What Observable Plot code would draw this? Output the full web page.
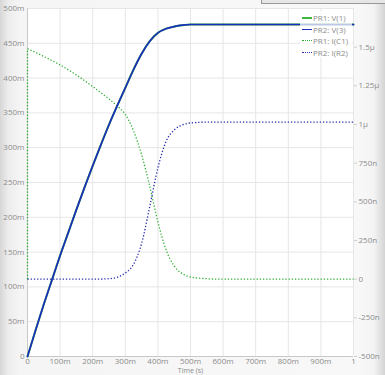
<!DOCTYPE html>
<html><head><meta charset="utf-8">
<script src="https://cdn.jsdelivr.net/npm/d3@7"></script>
<script src="https://cdn.jsdelivr.net/npm/@observablehq/plot@0.6"></script>
<style>
html,body{margin:0;padding:0;background:#f3f3f3;}
#wrap{position:relative;width:385px;height:375px;overflow:hidden;
 background:linear-gradient(to right,#d6d6d6 0px,#ececec 8px,#f5f5f5 20px,#f8f8f8 360px,#f3f3f3 374px,#d4d4d4 385px);}
#topbox{position:absolute;left:261px;top:-10px;width:140px;height:12px;background:#e6e6e6;border:1px solid #9a9a9a;}
#legend{position:absolute;left:300px;top:11px;width:52px;height:47px;background:rgba(255,255,255,0.72);
 font-family:"Open Sans",sans-serif;font-size:8px;color:#8c8c8c;}
.row{position:absolute;left:0;height:11px;line-height:11px;white-space:nowrap;}
.sw{position:absolute;left:2px;top:5px;width:10px;height:0;}
.lab{position:absolute;left:13px;top:0;}
</style></head>
<body><div id="wrap"><div id="topbox"></div><div id="chart"></div>
<div id="legend"></div></div>
<script>
// ---- tick values & labels ----
const xTicks = [0,0.1,0.2,0.3,0.4,0.5,0.6,0.7,0.8,0.9,1];
const xTickLabels = ["0","100m","200m","300m","400m","500m","600m","700m","800m","900m","1"];
const yTicks = [0,0.05,0.1,0.15,0.2,0.25,0.3,0.35,0.4,0.45,0.5];
const yTickLabels = ["0","50m","100m","150m","200m","250m","300m","350m","400m","450m","500m"];
const rTicks = [-500e-9,-250e-9,0,250e-9,500e-9,750e-9,1e-6,1.25e-6,1.5e-6];
const rTickLabels = ["-500n","-250n","0","250n","500n","750n","1µ","1.25µ","1.5µ"];
const rDomain = [-500e-9, 1.75e-6];

// ---- series ----
const seriesNames = ["PR1: V(1)","PR2: V(3)","PR1: I(C1)","PR2: I(R2)"];
const vTime = [0,0.025,0.05,0.075,0.1,0.125,0.15,0.175,0.2,0.225,0.25,0.275,0.3,0.325,0.35,0.375,0.4,0.425,0.45,0.475,0.5,0.6,0.8,1];
const v3Vals = [0,0.038,0.075,0.110,0.145,0.178,0.211,0.243,0.274,0.304,0.333,0.360,0.386,0.412,0.435,0.453,0.465,0.471,0.474,0.476,0.477,0.477,0.477,0.477];
const v1Vals = [0,0.038,0.075,0.110,0.145,0.178,0.211,0.243,0.274,0.304,0.333,0.360,0.386,0.412,0.435,0.453,0.465,0.471,0.474,0.476,0.477,0.477,0.477,0.477];
const ic1StepTime = [0,0];
const ic1StepVals = [0,1.49e-6];
const ic1Time = [0,0.05,0.1,0.15,0.2,0.25,0.275,0.3,0.325,0.35,0.375,0.4,0.425,0.45,0.475,0.5,0.55,0.6,0.8,1];
const ic1Vals = [1.49e-6,1.44e-6,1.385e-6,1.32e-6,1.245e-6,1.165e-6,1.12e-6,1.065e-6,0.96e-6,0.805e-6,0.60e-6,0.37e-6,0.19e-6,0.085e-6,0.036e-6,0.014e-6,0.003e-6,0,0,0];
const ir2Time = [0,0.2,0.25,0.275,0.3,0.325,0.35,0.375,0.4,0.425,0.45,0.475,0.5,0.55,0.6,0.8,1];
const ir2Vals = [0,0,0.003e-6,0.012e-6,0.04e-6,0.095e-6,0.23e-6,0.47e-6,0.72e-6,0.89e-6,0.965e-6,0.997e-6,1.01e-6,1.015e-6,1.015e-6,1.015e-6,1.015e-6];

const colors = ["#3db83d","#1a2dbd","#33b033","#2b2fae"];

// right-axis value -> left-axis scale value
const toLeft = r => (r - rDomain[0]) / (rDomain[1] - rDomain[0]) * 0.5;
const lookup = (vals, labels) => d => labels[vals.findIndex(v => Math.abs(v - d) < 1e-12)];

const v1Data = vTime.map((t,i) => ({t, v: v1Vals[i]}));
const v3Data = vTime.map((t,i) => ({t, v: v3Vals[i]}));
const ic1StepData = ic1StepTime.map((t,i) => ({t, v: ic1StepVals[i]}));
const ic1Data = ic1Time.map((t,i) => ({t, v: ic1Vals[i]}));
const ir2Data = ir2Time.map((t,i) => ({t, v: ir2Vals[i]}));
const rTicksLeft = rTicks.map(toLeft);
const dots = {strokeWidth: 1.3, strokeDasharray: "1.3,1.9", strokeLinecap: "butt"};

const chart = Plot.plot({
  width: 385, height: 375,
  marginLeft: 27, marginRight: 32, marginTop: 8, marginBottom: 19,
  style: {background: "transparent", fontFamily: "'Open Sans', sans-serif", fontSize: "8px", color: "#8c8c8c"},
  x: {domain: [0, 1]},
  y: {domain: [0, 0.5]},
  marks: [
    Plot.frame({fill: "white", stroke: null}),
    Plot.gridX(xTicks, {stroke: "#e6e6e6", strokeOpacity: 1}),
    Plot.gridY(yTicks, {stroke: "#e6e6e6", strokeOpacity: 1}),
    Plot.ruleX([0], {stroke: "#c8c8c8"}),
    Plot.ruleY([0], {stroke: "#c8c8c8"}),
    Plot.axisX(xTicks, {tickSize: 0, tickPadding: 2, tickFormat: lookup(xTicks, xTickLabels), label: null, fill: "#8c8c8c"}),
    Plot.axisX({ticks: [], label: "Time (s)", labelAnchor: "center", labelArrow: "none", labelOffset: 16, fontSize: 7, fill: "#8c8c8c"}),
    Plot.axisY(yTicks, {tickSize: 0, tickPadding: 3, tickFormat: lookup(yTicks, yTickLabels), label: null, fill: "#8c8c8c"}),
    Plot.axisY(rTicksLeft, {anchor: "right", tickSize: 3, tickPadding: 2, stroke: "#cfcfcf",
      tickFormat: d => rTickLabels[rTicksLeft.findIndex(v => Math.abs(v - d) < 1e-9)], label: null, fill: "#8c8c8c"}),
    Plot.line(v1Data, {x: "t", y: "v", stroke: colors[0], strokeWidth: 2, curve: "monotone-x"}),
    Plot.line(ic1StepData, {x: "t", y: d => toLeft(d.v), stroke: colors[2], ...dots}),
    Plot.line(ic1Data, {x: "t", y: d => toLeft(d.v), stroke: colors[2], ...dots, curve: "monotone-x"}),
    Plot.line(ir2Data, {x: "t", y: d => toLeft(d.v), stroke: colors[3], ...dots, curve: "monotone-x"}),
    Plot.line(v3Data, {x: "t", y: "v", stroke: colors[1], strokeWidth: 1.7, curve: "monotone-x"})
  ]
});
document.getElementById("chart").appendChild(chart);

// legend
const styles = ["solid","solid","dotted","dotted"];
const widths = [2,1.6,1.4,1.4];
const leg = document.getElementById("legend");
seriesNames.forEach((name, i) => {
  const row = document.createElement("div");
  row.className = "row";
  row.style.top = (1 + i * 11.7) + "px";
  row.innerHTML = `<span class="sw" style="border-top:${widths[i]}px ${styles[i]} ${colors[i]}"></span><span class="lab">${name}</span>`;
  leg.appendChild(row);
});
</script></body></html>
